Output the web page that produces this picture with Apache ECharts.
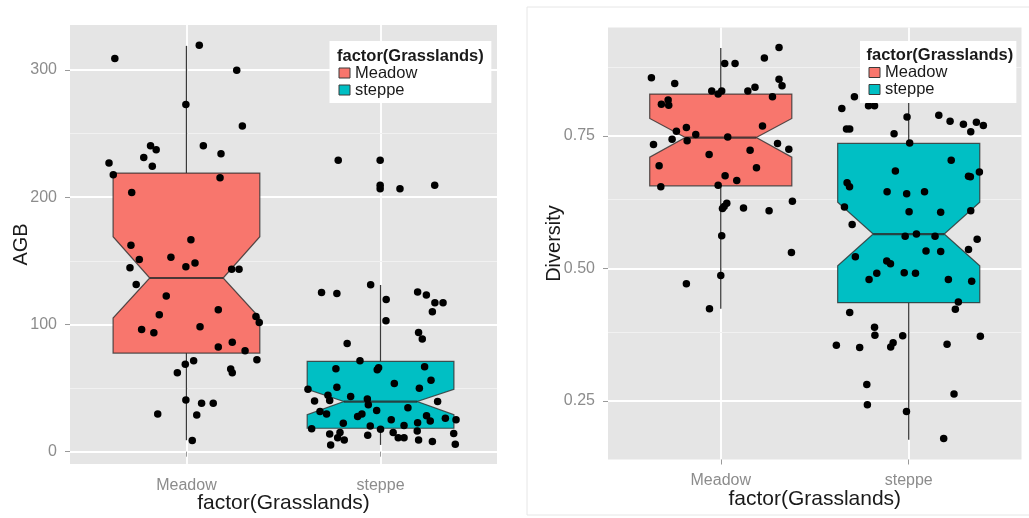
<!DOCTYPE html>
<html>
<head>
<meta charset="utf-8">
<script src="https://cdn.jsdelivr.net/npm/echarts@6/dist/echarts.min.js"></script>
<style>
  html, body { margin: 0; padding: 0; background: #ffffff; }
  #chart { width: 1029px; height: 518px; }
</style>
</head>
<body>
<div id="chart"></div>
<script>
// Grassland groups and their fills
const groups = ['Meadow', 'steppe'];
const groupColors = ['#F8766D', '#00BFC4'];

// Notched box summaries: [lower whisker, Q1, notch low, median, notch high, Q3, upper whisker]
const agbBoxMeadow = [9, 77.5, 105, 136.5, 169, 219, 319];
const agbBoxSteppe = [5.3, 18.4, 29, 39.4, 49, 70.9, 131];
const divBoxMeadow = [0.424, 0.656, 0.710, 0.747, 0.783, 0.829, 0.916];
const divBoxSteppe = [0.177, 0.4355, 0.505, 0.565, 0.625, 0.736, 0.824];

// Observations (AGB) and their horizontal jitter around the group centre
const agbMeadow = [319.4, 309, 299.8, 273, 256, 240.5, 240.5, 237.3, 234.2, 231.3, 227, 224.4, 217.6, 215.3, 203.7,
  166.5, 162.2, 151, 152.8, 148.3, 145.4, 144.6, 143.3, 143.3, 131.5, 122.4, 111.6, 107.6, 106.3, 101.6, 98.2, 96.1,
  93.5, 86.1, 82.2, 79.3, 72.2, 71.4, 68.8, 64.9, 62, 62, 40.7, 38.1, 38.1, 29.7, 28.9, 8.7];
const agbMeadowJitter = [0.066, -0.369, 0.259, -0.003, 0.288, 0.087, -0.185, -0.156, 0.178, -0.220, -0.399, -0.176, -0.377, 0.173, -0.282,
  0.023, -0.286, -0.243, -0.080, 0.044, -0.003, -0.291, 0.233, 0.271, -0.259, -0.104, 0.164, -0.140, 0.358, 0.375, 0.070, -0.231,
  -0.168, 0.236, 0.164, 0.302, 0.363, 0.037, -0.006, 0.228, 0.236, -0.047, -0.003, 0.078, 0.138, -0.148, 0.053, 0.030];

const agbSteppe = [229.1, 229.1, 209.4, 206.6, 206.6, 209.4, 131.3, 125.2, 124.4, 125.5, 123.1, 119.7, 117.1, 117.1, 110,
  102.9, 93.7, 88.5, 85, 71.4, 65.1, 64.3, 66.0, 66.7, 56.2, 53.5, 50.7, 49.9, 49.1, 44.4, 43.3, 39.9, 40.2, 41.3, 36.8,
  39.4, 34.6, 32.3, 31.5, 29.7, 29.7, 27.6, 28.3, 24.2, 25, 26.3, 25, 22.4, 22.8, 18.1, 20.2, 20.5, 17.6, 13.9, 15, 15,
  16.3, 14.2, 11, 9.2, 12.9, 11, 11, 9.2, 7.9, 5.8, 5.3];
const agbSteppeJitter = [-0.218, -0.002, -0.002, -0.002, 0.100, 0.279, -0.051, -0.304, -0.225, 0.191, 0.236, 0.029, 0.280, 0.322, 0.267,
  0.028, 0.196, 0.215, -0.172, -0.106, -0.230, -0.017, -0.010, 0.227, 0.260, 0.071, -0.225, 0.200, -0.374, -0.271, -0.154, -0.340, -0.262, -0.068, -0.063,
  0.294, 0.141, -0.020, -0.312, -0.278, -0.096, -0.118, 0.237, 0.256, 0.055, 0.334, 0.389, -0.192, 0.191, -0.355, -0.053, 0.121, 0.000, -0.262, -0.209, 0.065,
  0.189, 0.377, -0.221, -0.187, -0.066, 0.091, 0.121, 0.196, 0.267, 0.385, -0.257];

// Observations (Diversity) and their jitter
const divMeadow = [0.917, 0.887, 0.887, 0.897, 0.860, 0.849, 0.857, 0.845, 0.842, 0.835, 0.835, 0.829, 0.835, 0.824, 0.818,
  0.810, 0.808, 0.769, 0.766, 0.759, 0.753, 0.748, 0.744, 0.741, 0.734, 0.736, 0.725, 0.723, 0.715, 0.694, 0.690, 0.675,
  0.666, 0.654, 0.657, 0.627, 0.623, 0.617, 0.613, 0.614, 0.609, 0.562, 0.530, 0.487, 0.471, 0.424];
const divMeadowJitter = [0.310, 0.021, 0.076, 0.232, -0.369, -0.245, 0.310, 0.326, 0.182, 0.144, -0.048, -0.014, 0.005, 0.275, -0.280,
  -0.316, -0.277, 0.222, -0.183, -0.236, -0.133, 0.037, -0.259, -0.179, -0.358, 0.302, 0.362, 0.156, -0.062, -0.328, 0.190, 0.023,
  0.085, -0.319, -0.014, 0.381, 0.032, 0.018, 0.009, 0.121, 0.257, 0.005, 0.376, 0.000, -0.183, -0.060];

const divSteppe = [0.824, 0.802, 0.807, 0.807, 0.786, 0.789, 0.778, 0.772, 0.776, 0.770, 0.758, 0.763, 0.763, 0.754, 0.737,
  0.704, 0.684, 0.674, 0.682, 0.673, 0.662, 0.654, 0.645, 0.641, 0.645, 0.616, 0.607, 0.606, 0.609, 0.583, 0.561, 0.565,
  0.561, 0.555, 0.533, 0.532, 0.536, 0.522, 0.514, 0.509, 0.491, 0.492, 0.491, 0.479, 0.479, 0.476, 0.437, 0.423, 0.417,
  0.389, 0.374, 0.373, 0.372, 0.355, 0.351, 0.352, 0.360, 0.357, 0.281, 0.263, 0.243, 0.230, 0.179];
const divSteppeJitter = [-0.289, -0.356, -0.214, -0.182, -0.009, 0.160, 0.220, 0.291, 0.360, 0.397, 0.330, -0.331, -0.314, -0.078, 0.005,
  0.226, -0.071, 0.318, 0.376, 0.328, -0.328, -0.315, -0.115, -0.011, 0.084, -0.342, 0.002, 0.170, 0.330, -0.301, -0.019, 0.041,
  0.140, 0.364, 0.092, 0.170, 0.318, -0.284, -0.117, -0.097, -0.170, -0.024, 0.036, -0.211, 0.211, 0.335, 0.264, 0.248, -0.314,
  -0.182, -0.180, -0.032, 0.381, -0.385, -0.261, -0.096, -0.083, 0.204, -0.223, 0.241, -0.220, -0.012, 0.186];

// Axis ticks
const xTicks = [1, 2];
const agbTicks = [0, 100, 200, 300];
const agbMinorTicks = [50, 150, 250];
const divTicks = [0.25, 0.50, 0.75];
const divMinorTicks = [0.375, 0.625, 0.875];

const FONT = "'Liberation Sans', Arial, sans-serif";
const BOX_HALF = 0.378;     // half box width in category units
const PANEL_BG = '#E5E5E5';

function renderNotchBox(params, api) {
  const x = api.value(0);
  const lo = api.value(1), q1 = api.value(2), nl = api.value(3), md = api.value(4),
        nh = api.value(5), q3 = api.value(6), hi = api.value(7);
  const hw = BOX_HALF;
  const P = (dx, v) => api.coord([x + dx, v]);
  const outline = [P(-hw, q1), P(hw, q1), P(hw, nl), P(hw / 2, md), P(hw, nh), P(hw, q3),
                   P(-hw, q3), P(-hw, nh), P(-hw / 2, md), P(-hw, nl)];
  const top = P(0, hi), q3p = P(0, q3), q1p = P(0, q1), bot = P(0, lo);
  const mL = P(-hw / 2, md), mR = P(hw / 2, md);
  const whisker = { stroke: '#3a3a3a', lineWidth: 1.3 };
  return {
    type: 'group',
    children: [
      { type: 'line', shape: { x1: top[0], y1: top[1], x2: q3p[0], y2: q3p[1] }, style: whisker },
      { type: 'line', shape: { x1: q1p[0], y1: q1p[1], x2: bot[0], y2: bot[1] }, style: whisker },
      { type: 'polygon', shape: { points: outline },
        style: { fill: api.visual('color'), stroke: 'rgba(45,45,45,0.8)', lineWidth: 1.2 } },
      { type: 'line', shape: { x1: mL[0], y1: mL[1], x2: mR[0], y2: mR[1] },
        style: { stroke: 'rgba(45,45,45,0.85)', lineWidth: 2.2 } }
    ]
  };
}

function boxSeries(name, color, gridIdx, catIndex, stats) {
  return {
    type: 'custom', name: name,
    xAxisIndex: gridIdx, yAxisIndex: gridIdx,
    itemStyle: { color: color, borderColor: '#3a3a3a', borderWidth: 1 },
    renderItem: renderNotchBox,
    encode: { x: 0, y: [1, 2, 3, 4, 5, 6, 7] },
    data: [[catIndex].concat(stats)],
    z: 2, silent: true
  };
}

function jitterPoints(catIndex, values, jitter) {
  return values.map((v, i) => [catIndex + jitter[i], v]);
}

function pointSeries(name, gridIdx, data, minor) {
  return {
    type: 'scatter', name: name,
    xAxisIndex: gridIdx, yAxisIndex: gridIdx,
    symbol: 'circle', symbolSize: 7.5,
    itemStyle: { color: '#000000', opacity: 1 },
    data: data, z: 3, silent: true,
    markLine: minor ? {
      silent: true, symbol: 'none', z: 1,
      label: { show: false },
      lineStyle: { color: '#F1F1F1', width: 1.2, type: 'solid', opacity: 1 },
      data: minor.map(v => ({ yAxis: v }))
    } : undefined
  };
}

function xAxisDef(gridIdx, labelMargin, nameGap) {
  return {
    type: 'value', gridIndex: gridIdx, min: 0.4, max: 2.6,
    name: 'factor(Grasslands)', nameLocation: 'middle', nameGap: nameGap, nameMoveOverlap: false,
    nameTextStyle: { fontFamily: FONT, fontSize: 21, color: '#1a1a1a' },
    axisLine: { show: false },
    axisTick: { show: true, customValues: xTicks, length: 5, lineStyle: { color: '#9a9a9a', width: 1 } },
    axisLabel: { customValues: xTicks, formatter: v => groups[Math.round(v) - 1],
      fontFamily: FONT, fontSize: 16, color: '#8c8c8c', margin: labelMargin },
    splitLine: { show: true, lineStyle: { color: '#ffffff', width: 1.8 } }
  };
}

function yAxisDef(gridIdx, name, min, max, ticks, fmt, nameGap) {
  return {
    type: 'value', gridIndex: gridIdx, min: min, max: max,
    name: name, nameLocation: 'middle', nameGap: nameGap, nameMoveOverlap: false,
    nameTextStyle: { fontFamily: FONT, fontSize: 20, color: '#1a1a1a' },
    axisLine: { show: false },
    axisTick: { show: true, customValues: ticks, length: 5, lineStyle: { color: '#9a9a9a', width: 1 } },
    axisLabel: { customValues: ticks, formatter: fmt,
      fontFamily: FONT, fontSize: 16, color: '#8c8c8c', margin: 13 },
    splitLine: { show: true, lineStyle: { color: '#ffffff', width: 1.8 } }
  };
}

function legendDef(left, padding) {
  return {
    show: true, orient: 'vertical', left: left, top: 41,
    data: groups,
    backgroundColor: '#ffffff', padding: padding,
    icon: 'rect', itemWidth: 11, itemHeight: 10, itemGap: 0,
    itemStyle: { borderColor: '#3a3a3a', borderWidth: 1 },
    selectedMode: false,
    textStyle: { fontFamily: FONT, fontSize: 16.5, color: '#1a1a1a', lineHeight: 16 }
  };
}

const chart = echarts.init(document.getElementById('chart'), null, { renderer: 'canvas' });

chart.setOption({
  animation: false,
  backgroundColor: '#ffffff',
  textStyle: { fontFamily: FONT },
  graphic: [{
    type: 'rect', shape: { x: 527, y: 7, width: 520, height: 508 },
    style: { fill: 'none', stroke: '#e6e6e6', lineWidth: 1 }, z: -1, silent: true
  }],
  title: [
    { text: 'factor(Grasslands)', left: 337, top: 47.5, padding: 0,
      textStyle: { fontFamily: FONT, fontSize: 16.5, fontWeight: 'bold', color: '#1a1a1a' }, z: 10 },
    { text: 'factor(Grasslands)', left: 866.5, top: 47, padding: 0,
      textStyle: { fontFamily: FONT, fontSize: 16.5, fontWeight: 'bold', color: '#1a1a1a' }, z: 10 }
  ],
  legend: [
    legendDef(329.5, [23.5, 74, 4.5, 9]),
    legendDef(860, [23, 69, 5, 8.5])
  ],
  grid: [
    { left: 70, top: 25, width: 427, height: 439, show: true, backgroundColor: PANEL_BG, borderWidth: 0,
      containLabel: false, outerBoundsMode: 'none' },
    { left: 608, top: 27.5, width: 413.5, height: 432, show: true, backgroundColor: PANEL_BG, borderWidth: 0,
      containLabel: false, outerBoundsMode: 'none' }
  ],
  xAxis: [ xAxisDef(0, 14, 29), xAxisDef(1, 13.5, 29) ],
  yAxis: [
    yAxisDef(0, 'AGB', -9.7, 335.4, agbTicks, v => String(v), 39),
    yAxisDef(1, 'Diversity', 0.1396, 0.9547, divTicks, v => v.toFixed(2), 43.5)
  ],
  series: [
    boxSeries('Meadow', groupColors[0], 0, 1, agbBoxMeadow),
    boxSeries('steppe', groupColors[1], 0, 2, agbBoxSteppe),
    pointSeries('AGB Meadow', 0, jitterPoints(1, agbMeadow, agbMeadowJitter), agbMinorTicks),
    pointSeries('AGB steppe', 0, jitterPoints(2, agbSteppe, agbSteppeJitter), null),
    boxSeries('Meadow', groupColors[0], 1, 1, divBoxMeadow),
    boxSeries('steppe', groupColors[1], 1, 2, divBoxSteppe),
    pointSeries('Diversity Meadow', 1, jitterPoints(1, divMeadow, divMeadowJitter), divMinorTicks),
    pointSeries('Diversity steppe', 1, jitterPoints(2, divSteppe, divSteppeJitter), null)
  ]
});
</script>
</body>
</html>
